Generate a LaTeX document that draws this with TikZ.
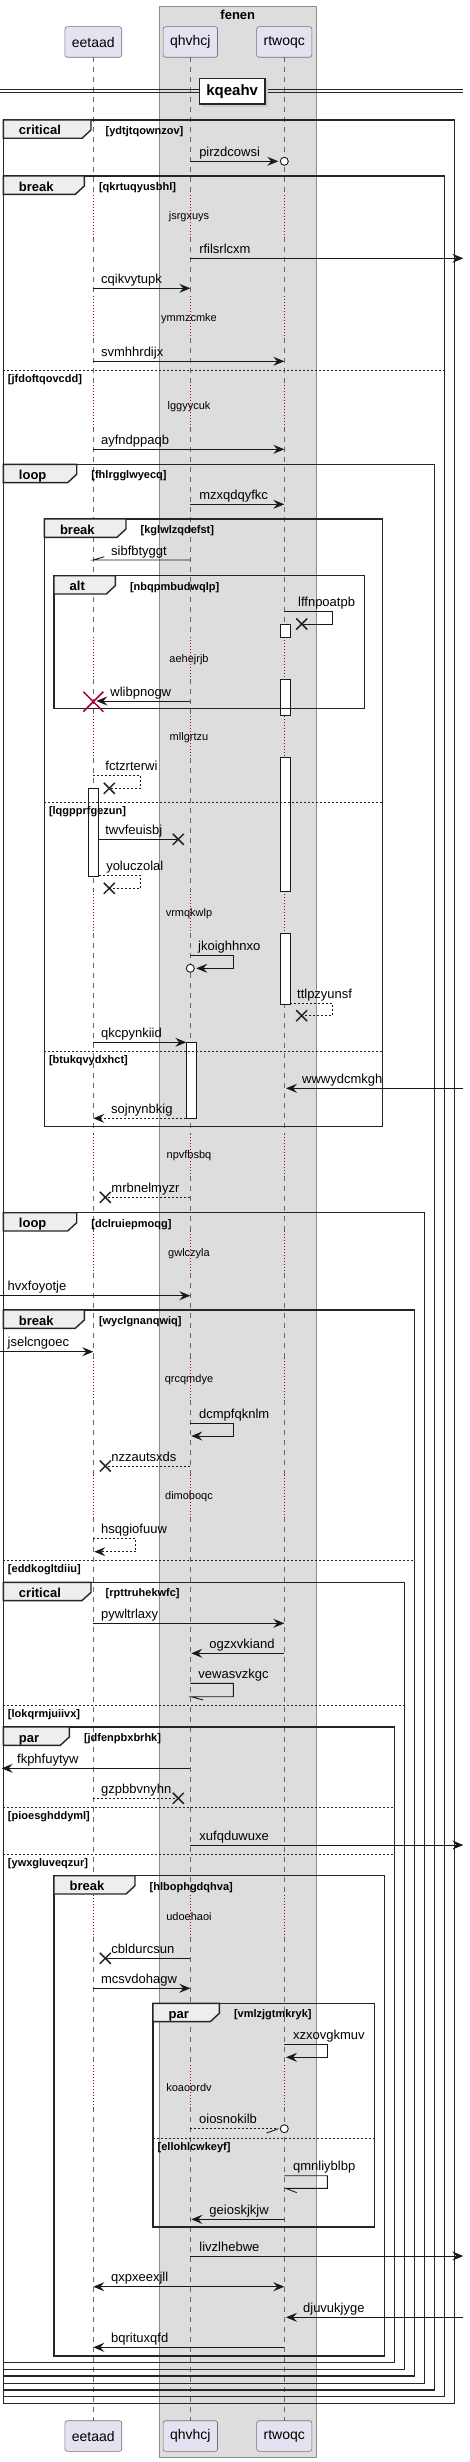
\documentclass[tikz,border=0pt]{standalone}
\usepackage{fontspec}
\setmainfont{Liberation Sans}
\usetikzlibrary{arrows.meta,calc}

\definecolor{partfill}{HTML}{E2E2F0}
\definecolor{groupfill}{HTML}{DDDDDD}
\definecolor{tabfill}{HTML}{EEEEEE}
\definecolor{delayred}{HTML}{A80036}

\tikzset{
  party/.style={draw=black!55, fill=partfill, rounded corners=2.5pt, line width=0.6pt,
    minimum height=30.6pt, inner xsep=7pt, font=\fontsize{14}{16}\selectfont},
  lifeline/.style={draw=black!60, line width=0.7pt, dash pattern=on 5pt off 5pt},
  delayline/.style={draw=delayred, line width=0.9pt, dash pattern=on 1pt off 2pt},
  frameline/.style={draw=black!85, line width=1.4pt},
  elseline/.style={draw=black!85, line width=0.8pt, dash pattern=on 2pt off 2pt},
  tabtext/.style={font=\bfseries\fontsize{13}{15}\selectfont, anchor=base west, inner sep=0pt},
  condtext/.style={font=\bfseries\fontsize{11}{13}\selectfont, anchor=base west, inner sep=0pt},
  delaytext/.style={font=\fontsize{11}{13}\selectfont, inner sep=0pt},
  lbl/.style={font=\fontsize{13}{15}\selectfont, anchor=base west, inner sep=0pt},
  msg/.style={draw=black!90, line width=0.9pt},
  ret/.style={msg, dash pattern=on 2pt off 2pt},
  actbar/.style={draw=black!90, fill=white, line width=0.8pt, minimum width=10pt,
    inner sep=0pt, outer sep=0pt},
  xcross/.pic={\draw[solid,-,black!85,line width=1.5pt] (-5.5,-5.5) -- (5.5,5.5) (-5.5,5.5) -- (5.5,-5.5);},
  redcross/.pic={\draw[solid,-,delayred,line width=1.5pt] (-10,-10) -- (10,10) (-10,10) -- (10,-10);},
}

% frame: left, top, right, bottom, tab right, kind, condition
\newcommand\sqframe[7]{%
  \draw[frameline] (#1,#2) rectangle (#3,#4);
  \draw[frameline,fill=tabfill] (#1,#2) -- (#5,#2) -- (#5,#2+10) -- (#5-9,#2+18.3) -- (#1,#2+18.3) -- cycle;
  \node[tabtext] (tab-#7) at (#1+15.5,#2+15) {#6};
  \node[condtext] (cond-#7) at (#5+14.5,#2+14.5) {[#7]};
}
% else: left, right, y, condition
\newcommand\sqelse[4]{%
  \draw[elseline] (#1,#3) -- (#2,#3);
  \node[condtext] (cond-#4) at (#1+4.5,#3+12) {[#4]};
}

\begin{document}
\begin{tikzpicture}[x=1pt,y=-1pt,>={Stealth[length=11pt,width=9pt,inset=4pt]}]
\useasboundingbox (0,0) rectangle (470,2462);

% box round the two participants
\draw[draw=black!45, fill=groupfill, line width=0.6pt] (159.7,6) rectangle (316,2457);
\node[font=\bfseries\fontsize{13}{15}\selectfont] (fenen) at (237.8,15) {fenen};

\node[party] (eetaad) at (93.3,42) {eetaad};
\node[party] (qhvhcj) at (190.3,42) {qhvhcj};
\node[party] (rtwoqc) at (284.3,42) {rtwoqc};
\node[party] (eetaadfoot) at (93.3,2436) {eetaad};
\node[party] (qhvhcjfoot) at (190.3,2436) {qhvhcj};
\node[party] (rtwoqcfoot) at (284.3,2436) {rtwoqc};
\coordinate (leftedge) at (0,0);
\coordinate (rightedge) at (463.3,0);

% lifelines, broken where the delays are
\foreach \ya/\yb in {57.3/194.7, 236.7/296.3, 338.3/384.7, 426.7/637.3, 679.3/715.7,
  757.7/891.3, 933.3/1133.7, 1175.7/1231.3, 1273.3/1358, 1400/1474.7,
  1516.7/1894.7, 1936.7/2065.3, 2107.3/2420.7}
  \foreach \who in {eetaad,qhvhcj,rtwoqc}
    \draw[lifeline] (\who |- 0,\ya) -- (\who |- 0,\yb);

% delays
\foreach \t/\txt in {216.7/jsrgxuys, 318.3/ymmzcmke, 406.7/lggyycuk, 659.3/aehejrjb,
  737.7/mllgrtzu, 913.3/vrmqkwlp, 1155.7/npvfbsbq, 1253.3/gwlczyla, 1380/qrcqmdye,
  1496.7/dimoboqc, 1916.7/udoehaoi, 2087.3/koaoordv}{
  \pgfmathsetmacro\ya{\t-22}\pgfmathsetmacro\yb{\t+20}
  \foreach \who in {eetaad,qhvhcj,rtwoqc}
    \draw[delayline] (\who |- 0,\ya) -- (\who |- 0,\yb);
  \node[delaytext] (d-\txt) at (189,\t) {\txt};
}

% activations
\node[actbar,minimum height=13pt,xshift=1pt] (actR1) at (rtwoqc |- 0,630.8) {};
\node[actbar,minimum height=36.4pt,xshift=1pt] (actR2) at (rtwoqc |- 0,697.5) {};
\node[actbar,minimum height=133.6pt,xshift=1pt] (actR3) at (rtwoqc |- 0,824.5) {};
\node[actbar,minimum height=70.7pt,xshift=1pt] (actR4) at (rtwoqc |- 0,968.65) {};
\node[actbar,minimum height=87.7pt,xshift=0.2pt] (actE) at (eetaad |- 0,832.15) {};
\node[actbar,minimum height=76pt,xshift=1pt] (actQ) at (qhvhcj |- 0,1080.3) {};

% divider
\draw[black!85, line width=1pt] (0,89.3) -- (463.3,89.3) (0,92.7) -- (463.3,92.7);
\fill[black!20] (202.3,81.3) rectangle (268,107);
\node[draw=black!85, line width=1.5pt, fill=white, minimum width=65.7pt, minimum height=25.7pt,
  inner sep=0pt, font=\bfseries\fontsize{15}{17}\selectfont] (kqeahv) at (232.2,91.2) {kqeahv};

% frames
\sqframe{3.3}{120}{454.3}{2403.3}{91}{critical}{ydtjtqownzov}
\sqframe{3.3}{176}{444.3}{2396.7}{84.3}{break}{qkrtuqyusbhl}
\sqelse{3.3}{444.3}{370.3}{jfdoftqovcdd}
\sqframe{3.3}{464.3}{434.3}{2390}{76.7}{loop}{fhlrgglwyecq}
\sqframe{44.3}{519}{382.3}{1126.7}{126}{break}{kglwlzqdefst}
\sqelse{44.3}{382.3}{802}{lqgpprfgezun}
\sqelse{44.3}{382.3}{1051.7}{btukqvydxhct}
\sqframe{54}{575.7}{364.3}{708.7}{115.3}{alt}{nbqpmbudwqlp}
\sqframe{3.3}{1212.7}{424.3}{2383.3}{76.7}{loop}{dclruiepmoqg}
\sqframe{3.3}{1310}{414.3}{2376}{84.3}{break}{wyclgnanqwiq}
\sqelse{3.3}{414.3}{1560.3}{eddkogltdiiu}
\sqframe{3.3}{1582.3}{404.3}{2369.3}{91}{critical}{rpttruhekwfc}
\sqelse{3.3}{404.3}{1705.3}{lokqrmjuiivx}
\sqframe{3.3}{1727}{394.3}{2362.7}{69.3}{par}{jdfenpbxbrhk}
\sqelse{3.3}{394.3}{1807}{pioesghddyml}
\sqelse{3.3}{394.3}{1854}{ywxgluveqzur}
\sqframe{54}{1875.7}{384.3}{2356}{135}{break}{hlbophgdqhva}
\sqframe{153}{2003.3}{374.3}{2227}{219.3}{par}{vmlzjgtmkryk}
\sqelse{153}{374.3}{2138}{ellohlcwkeyf}

% messages
\draw[msg,->] (qhvhcj |- 0,161.3) -- ($(rtwoqc |- 0,161.3)+(-6,0)$)
  node[lbl,pos=0,xshift=8.5pt,yshift=5pt] (pirzdcowsi) {pirzdcowsi};
\draw[msg,fill=white] (rtwoqc |- 0,161.3) circle[radius=4pt];
\draw[msg,->] (qhvhcj |- 0,258.3) -- (rightedge |- 0,258.3)
  node[lbl,pos=0,xshift=8.5pt,yshift=5pt] (rfilsrlcxm) {rfilsrlcxm};
\draw[msg,->] (eetaad |- 0,288.3) -- (qhvhcj |- 0,288.3)
  node[lbl,pos=0,xshift=7.4pt,yshift=5pt] (cqikvytupk) {cqikvytupk};
\draw[msg,->] (eetaad |- 0,361.3) -- (rtwoqc |- 0,361.3)
  node[lbl,pos=0,xshift=7.4pt,yshift=5pt] (svmhhrdijx) {svmhhrdijx};
\draw[msg,->] (eetaad |- 0,449.3) -- (rtwoqc |- 0,449.3)
  node[lbl,pos=0,xshift=7.4pt,yshift=5pt] (ayfndppaqb) {ayfndppaqb};
\draw[msg,->] (qhvhcj |- 0,504.3) -- (rtwoqc |- 0,504.3)
  node[lbl,pos=0,xshift=8.5pt,yshift=5pt] (mzxqdqyfkc) {mzxqdqyfkc};
\draw[msg] (qhvhcj |- 0,560) -- (eetaad |- 0,560)
  node[lbl,pos=1,xshift=17.4pt,yshift=5pt] (sibfbtyggt) {sibfbtyggt} -- ++(11,-3.3);
\draw[msg] (rtwoqc |- 0,611.7) node[lbl,xshift=13.4pt,yshift=5pt] (lffnpoatpb) {lffnpoatpb}
  -- ++(48,0) -- ++(0,12.3) -- ($(rtwoqc |- 0,624)+(17.4,0)$) pic{xcross};
\draw[msg,->] (qhvhcj |- 0,701) -- ($(eetaad |- 0,701)+(3,0)$)
  node[lbl,pos=1,xshift=13.7pt,yshift=5pt] (wlibpnogw) {wlibpnogw};
\path (eetaad |- 0,701.7) pic{redcross};
\draw[ret] (eetaad |- 0,775) node[lbl,xshift=11.7pt,yshift=5pt] (fctzrterwi) {fctzrterwi}
  -- ++(47.4,0) -- ++(0,13.3) -- ($(eetaad |- 0,788.3)+(16,0)$) pic{xcross};
\draw[msg] (actE.east |- 0,839.3) node[lbl,xshift=6.3pt,yshift=5pt] (twvfeuisbj) {twvfeuisbj}
  -- ($(qhvhcj |- 0,839.3)+(-12,0)$) pic{xcross};
\draw[ret] (actE.east |- 0,875.7) node[lbl,xshift=7.3pt,yshift=5pt] (yoluczolal) {yoluczolal}
  -- ++(42,0) -- ++(0,12.6) -- ($(eetaad |- 0,888.3)+(16,0)$) pic{xcross};
\draw[msg,->] (qhvhcj |- 0,955) node[lbl,xshift=7.4pt,yshift=5pt] (jkoighhnxo) {jkoighhnxo}
  -- ++(43,0) -- ++(0,13.3) -- ($(qhvhcj |- 0,968.3)+(6,0)$);
\draw[msg,fill=white] (qhvhcj |- 0,968.3) circle[radius=4pt];
\draw[ret] (actR4.east |- 0,1003.3) node[lbl,xshift=6.4pt,yshift=5pt] (ttlpzyunsf) {ttlpzyunsf}
  -- ++(42,0) -- ++(0,12.4) -- ($(rtwoqc |- 0,1015.7)+(17.4,0)$) pic{xcross};
\draw[msg,->] (eetaad |- 0,1042.3) -- (actQ.west |- 0,1042.3)
  node[lbl,pos=0,xshift=7.4pt,yshift=5pt] (qkcpynkiid) {qkcpynkiid};
\draw[msg,->] (rightedge |- 0,1088.3) -- ($(rtwoqc |- 0,1088.3)+(1.7,0)$)
  node[lbl,pos=1,xshift=15.7pt,yshift=5pt] (wwwydcmkgh) {wwwydcmkgh};
\draw[ret,->] (actQ.west |- 0,1118.3) -- (eetaad |- 0,1118.3)
  node[lbl,pos=1,xshift=17.4pt,yshift=5pt] (sojnynbkig) {sojnynbkig};
\draw[ret] (qhvhcj |- 0,1197.3) -- ($(eetaad |- 0,1197.3)+(12,0)$)
  node[lbl,pos=1,xshift=5.7pt,yshift=5pt] (mrbnelmyzr) {mrbnelmyzr} pic{xcross};
\draw[msg,->] (leftedge |- 0,1295.7) -- (qhvhcj |- 0,1295.7)
  node[lbl,pos=0,xshift=7.3pt,yshift=5pt] (hvxfoyotje) {hvxfoyotje};
\draw[msg,->] (leftedge |- 0,1351.7) -- (eetaad |- 0,1351.7)
  node[lbl,pos=0,xshift=7.3pt,yshift=5pt] (jselcngoec) {jselcngoec};
\draw[msg,->] (qhvhcj |- 0,1423.3) node[lbl,xshift=8.4pt,yshift=5pt] (dcmpfqknlm) {dcmpfqknlm}
  -- ++(43,0) -- ++(0,12.7) -- ($(qhvhcj |- 0,1436)+(1,0)$);
\draw[ret] (qhvhcj |- 0,1466) -- ($(eetaad |- 0,1466)+(12,0)$)
  node[lbl,pos=1,xshift=5.7pt,yshift=5pt] (nzzautsxds) {nzzautsxds} pic{xcross};
\draw[ret,->] (eetaad |- 0,1538.3) node[lbl,xshift=7.4pt,yshift=5pt] (hsqgiofuuw) {hsqgiofuuw}
  -- ++(42.4,0) -- ++(0,13.4) -- ($(eetaad |- 0,1551.7)+(1,0)$);
\draw[msg,->] (eetaad |- 0,1623.3) -- (rtwoqc |- 0,1623.3)
  node[lbl,pos=0,xshift=7.4pt,yshift=5pt] (pywltrlaxy) {pywltrlaxy};
\draw[msg,->] (rtwoqc |- 0,1653.3) -- ($(qhvhcj |- 0,1653.3)+(1,0)$)
  node[lbl,pos=1,xshift=17.7pt,yshift=5pt] (ogzxvkiand) {ogzxvkiand};
\draw[msg] (qhvhcj |- 0,1683.3) node[lbl,xshift=7.7pt,yshift=5pt] (vewasvzkgc) {vewasvzkgc}
  -- ++(43,0) -- ++(0,13.4) -- ($(qhvhcj |- 0,1696.7)+(1,0)$) -- ++(12,3.3);
\draw[msg,->] (qhvhcj |- 0,1768.3) -- ($(leftedge |- 0,1768.3)+(1.7,0)$)
  node[lbl,pos=1,xshift=15pt,yshift=5pt] (fkphfuytyw) {fkphfuytyw};
\draw[ret] (eetaad |- 0,1798.3) -- ($(qhvhcj |- 0,1798.3)+(-12,0)$)
  node[lbl,pos=0,xshift=7.4pt,yshift=5pt] (gzpbbvnyhn) {gzpbbvnyhn} pic{xcross};
\draw[msg,->] (qhvhcj |- 0,1845) -- (rightedge |- 0,1845)
  node[lbl,pos=0,xshift=8.7pt,yshift=5pt] (xufqduwuxe) {xufqduwuxe};
\draw[msg] (qhvhcj |- 0,1958.3) -- ($(eetaad |- 0,1958.3)+(12,0)$)
  node[lbl,pos=1,xshift=5.7pt,yshift=5pt] (cbldurcsun) {cbldurcsun} pic{xcross};
\draw[msg,->] (eetaad |- 0,1988.3) -- (qhvhcj |- 0,1988.3)
  node[lbl,pos=0,xshift=7.4pt,yshift=5pt] (mcsvdohagw) {mcsvdohagw};
\draw[msg,->] (rtwoqc |- 0,2044.3) node[lbl,xshift=8.4pt,yshift=5pt] (xzxovgkmuv) {xzxovgkmuv}
  -- ++(43,0) -- ++(0,13) -- ($(rtwoqc |- 0,2057.3)+(1.7,0)$);
\draw[ret] (qhvhcj |- 0,2128.7) -- ($(rtwoqc |- 0,2128.7)+(-6,0)$)
  node[lbl,pos=0,xshift=8.4pt,yshift=5pt] (oiosnokilb) {oiosnokilb};
\draw[msg] ($(rtwoqc |- 0,2128.7)+(-6,0)$) -- ++(-11.7,4.3);
\draw[msg,fill=white] (rtwoqc |- 0,2128.7) circle[radius=4pt];
\draw[msg] (rtwoqc |- 0,2175.7) node[lbl,xshift=8.4pt,yshift=5pt] (qmnliyblbp) {qmnliyblbp}
  -- ++(43,0) -- ++(0,12.6) -- ($(rtwoqc |- 0,2188.3)+(1.7,0)$) -- ++(10.7,4.3);
\draw[msg,->] (rtwoqc |- 0,2219.3) -- ($(qhvhcj |- 0,2219.3)+(1,0)$)
  node[lbl,pos=1,xshift=17.7pt,yshift=5pt] (geioskjkjw) {geioskjkjw};
\draw[msg,->] (qhvhcj |- 0,2256) -- (rightedge |- 0,2256)
  node[lbl,pos=0,xshift=8.7pt,yshift=5pt] (livzlhebwe) {livzlhebwe};
\draw[msg,<->] (eetaad |- 0,2286.7) -- (rtwoqc |- 0,2286.7)
  node[lbl,pos=0,xshift=17.4pt,yshift=5pt] (qxpxeexjll) {qxpxeexjll};
\draw[msg,->] (rightedge |- 0,2317.3) -- ($(rtwoqc |- 0,2317.3)+(1.7,0)$)
  node[lbl,pos=1,xshift=16.7pt,yshift=5pt] (djuvukjyge) {djuvukjyge};
\draw[msg,->] (rtwoqc |- 0,2347.3) -- (eetaad |- 0,2347.3)
  node[lbl,pos=1,xshift=17.4pt,yshift=5pt] (bqrituxqfd) {bqrituxqfd};
\end{tikzpicture}
\end{document}
